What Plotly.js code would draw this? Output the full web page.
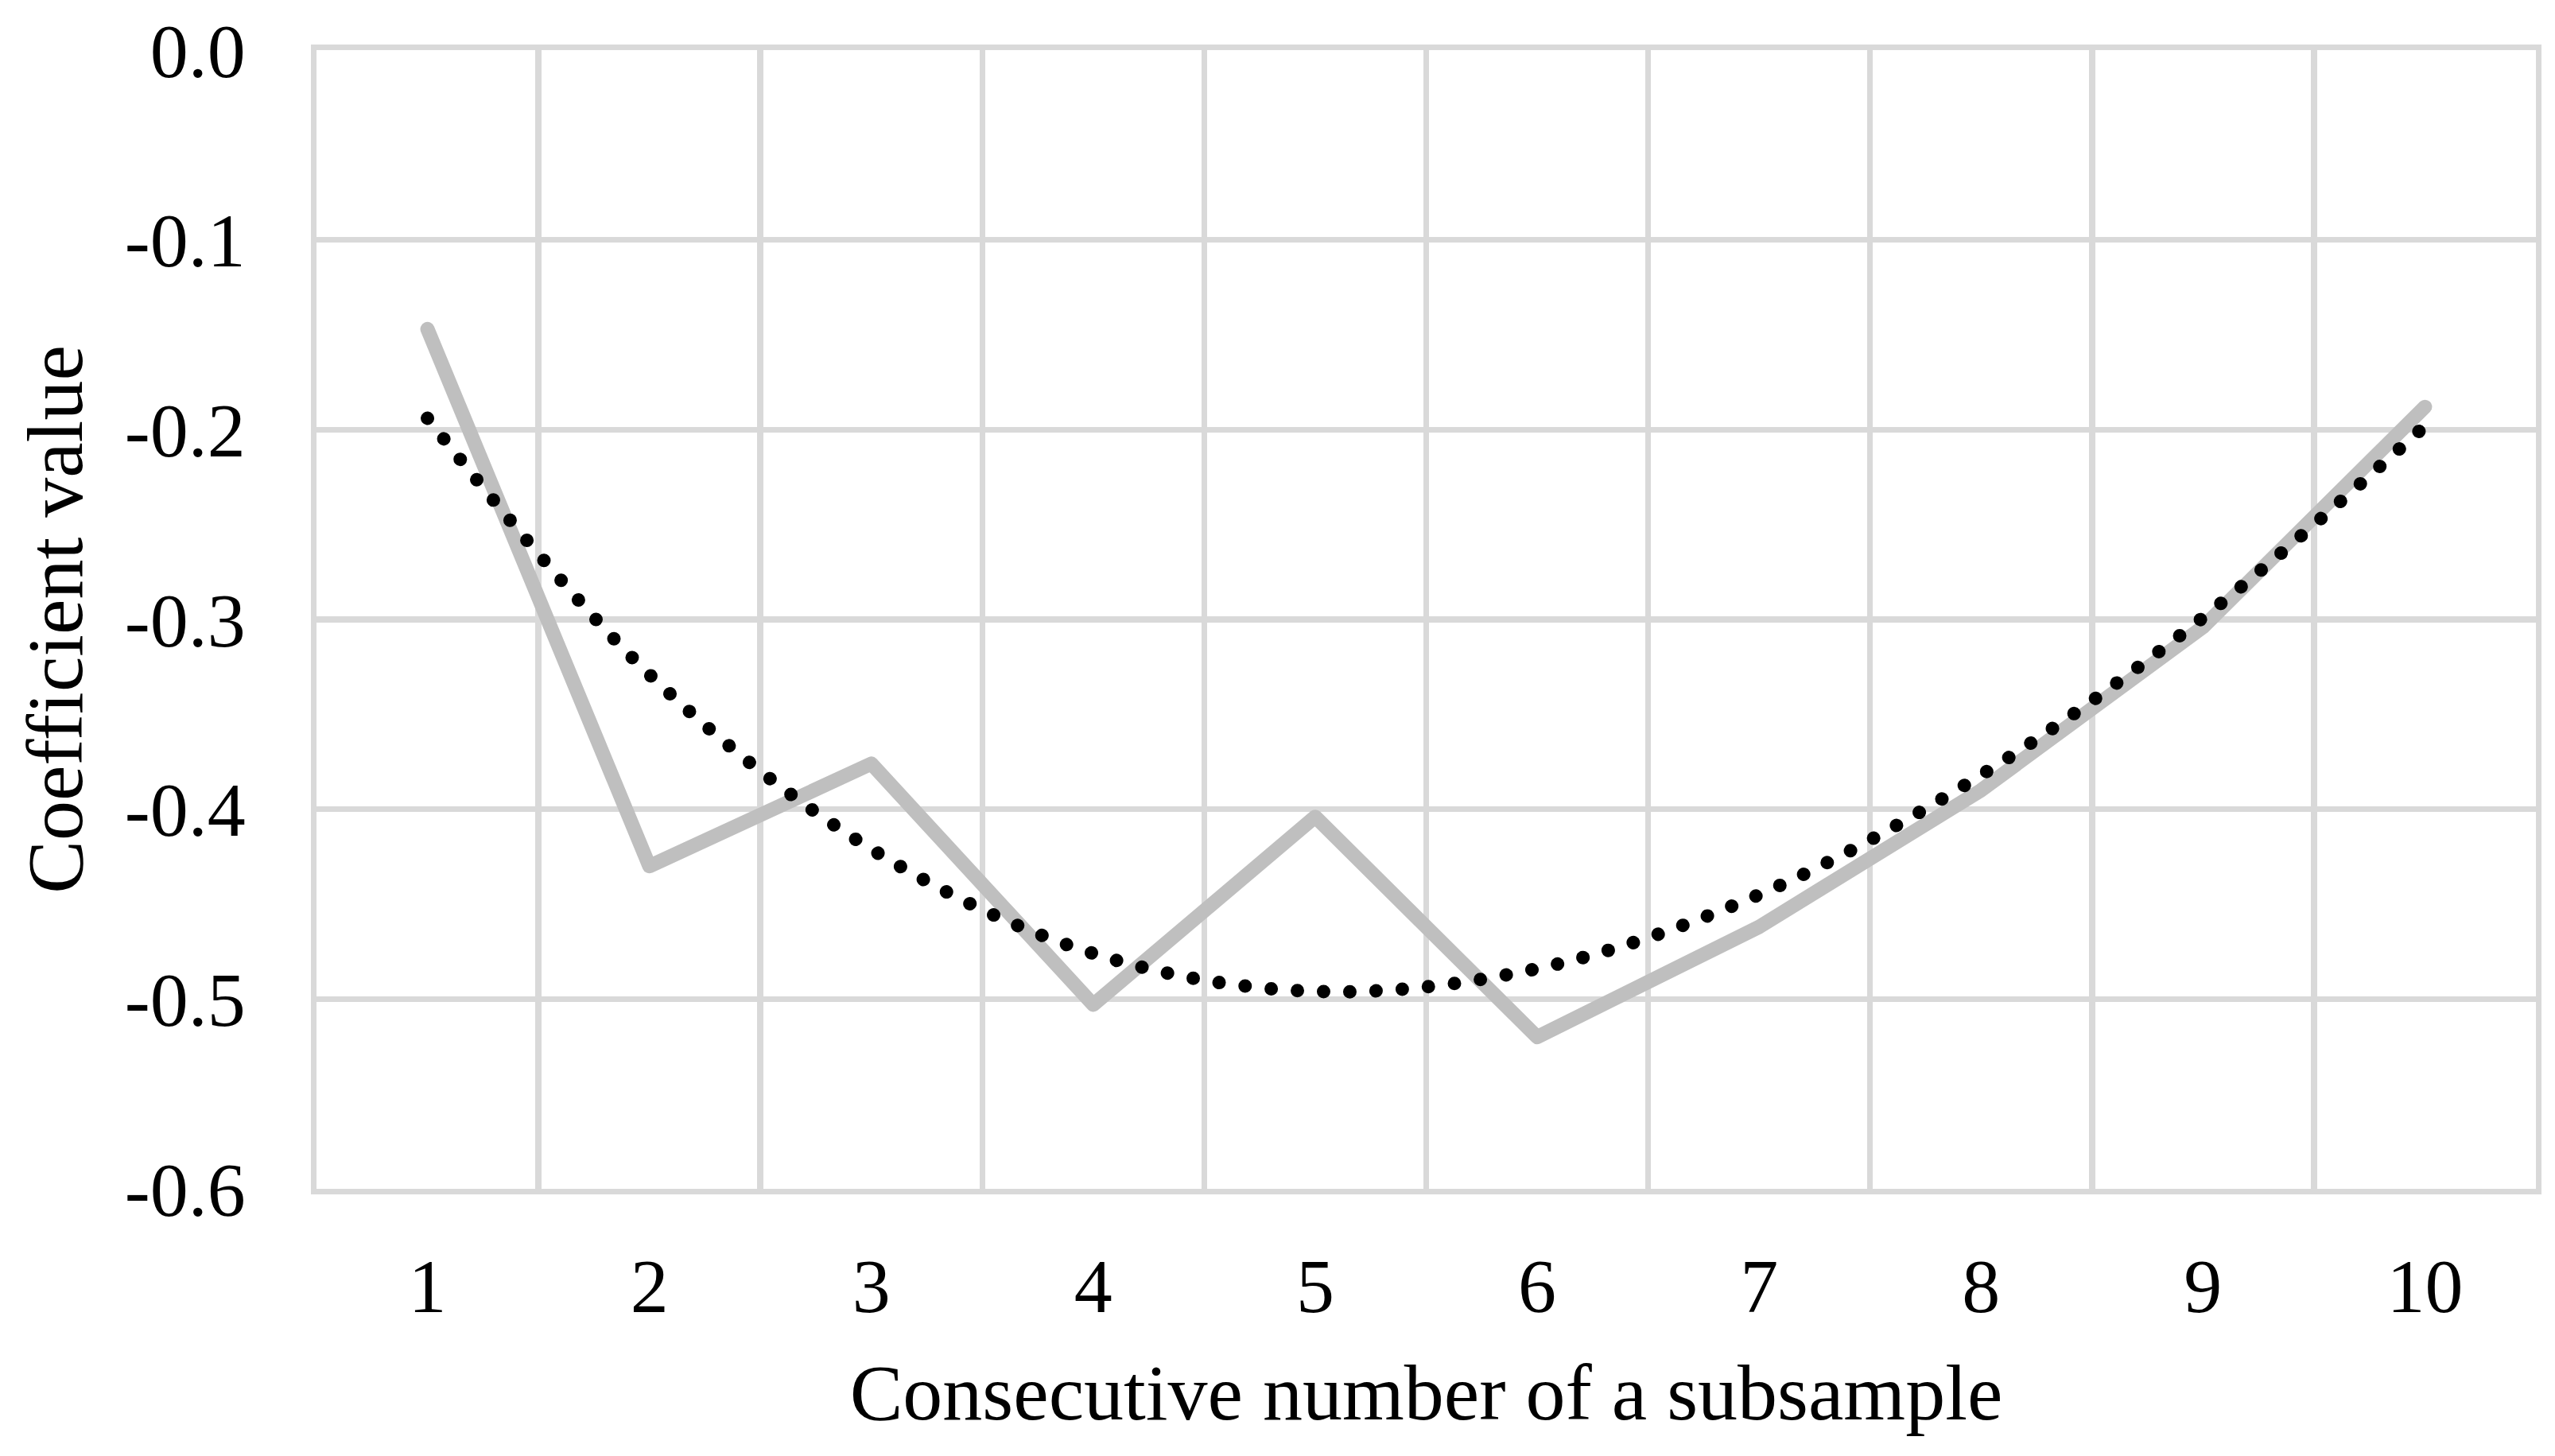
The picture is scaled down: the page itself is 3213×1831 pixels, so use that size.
<!DOCTYPE html>
<html>
<head>
<meta charset="utf-8">
<script src="https://cdn.plot.ly/plotly-3.0.1.min.js"></script>
<style>
html,body{margin:0;padding:0;background:#ffffff;}
#chart{width:3213px;height:1831px;}
</style>
</head>
<body>
<div id="chart"></div>
<script>
// Data
const subsamples = ['1','2','3','4','5','6','7','8','9','10'];
const coefficientValues = [-0.147, -0.430, -0.376, -0.503, -0.404, -0.520, -0.462, -0.390, -0.304, -0.188];
const trendValues = [-0.194, -0.329, -0.421, -0.476, -0.496, -0.484, -0.445, -0.382, -0.299, -0.198];
const yTickVals = [0, -0.1, -0.2, -0.3, -0.4, -0.5, -0.6];
const yTickText = ['0.0', '-0.1', '-0.2', '-0.3', '-0.4', '-0.5', '-0.6'];
const xTitle = 'Consecutive number of a subsample';
const yTitle = 'Coefficient value';

const FONT = 'Liberation Serif, Times New Roman, serif';
const GRID = '#d9d9d9';

const traces = [
  {
    x: subsamples,
    y: coefficientValues,
    type: 'scatter',
    mode: 'lines',
    name: 'coefficient',
    line: {color: '#bfbfbf', width: 18},
    hoverinfo: 'skip'
  },
  {
    x: subsamples,
    y: trendValues,
    type: 'scatter',
    mode: 'lines',
    name: 'trend',
    line: {color: '#000000', width: 17, shape: 'spline', dash: 'dot'},
    hoverinfo: 'skip'
  }
];

const layout = {
  width: 3213,
  height: 1831,
  margin: {l: 398, r: 24, t: 63, b: 336, pad: 0},
  paper_bgcolor: '#ffffff',
  plot_bgcolor: '#ffffff',
  showlegend: false,
  font: {family: FONT, color: '#000000', size: 96},
  xaxis: {
    type: 'category',
    range: [-0.5, 9.5],
    tickson: 'boundaries',
    showgrid: true,
    gridcolor: GRID,
    gridwidth: 7.5,
    showline: true,
    linecolor: GRID,
    linewidth: 7,
    mirror: true,
    ticks: '',
    zeroline: false,
    ticklabelstandoff: 33,
    tickfont: {family: FONT, size: 96, color: '#000000'},
    title: {text: xTitle, font: {family: FONT, size: 100, color: '#000000'}, standoff: 47},
    automargin: false
  },
  yaxis: {
    range: [-0.6, 0],
    tickvals: yTickVals,
    ticktext: yTickText,
    showgrid: true,
    gridcolor: GRID,
    gridwidth: 7.5,
    showline: true,
    linecolor: GRID,
    linewidth: 7,
    mirror: true,
    ticks: '',
    zeroline: false,
    ticklabelstandoff: 63,
    tickfont: {family: FONT, size: 96, color: '#000000'},
    title: {text: yTitle, font: {family: FONT, size: 100, color: '#000000'}, standoff: 22},
    automargin: false
  }
};

Plotly.newPlot('chart', traces, layout, {displayModeBar: false, staticPlot: true}).then(function(gd){
  const paths = gd.querySelectorAll('.scatterlayer .trace path.js-line');
  paths.forEach(function(p, i){
    p.style.strokeLinecap = 'round';
    p.style.strokeLinejoin = 'round';
    if (i === 1) {
      p.style.strokeDasharray = '0.001px,33px';
    }
  });
});
</script>
</body>
</html>
